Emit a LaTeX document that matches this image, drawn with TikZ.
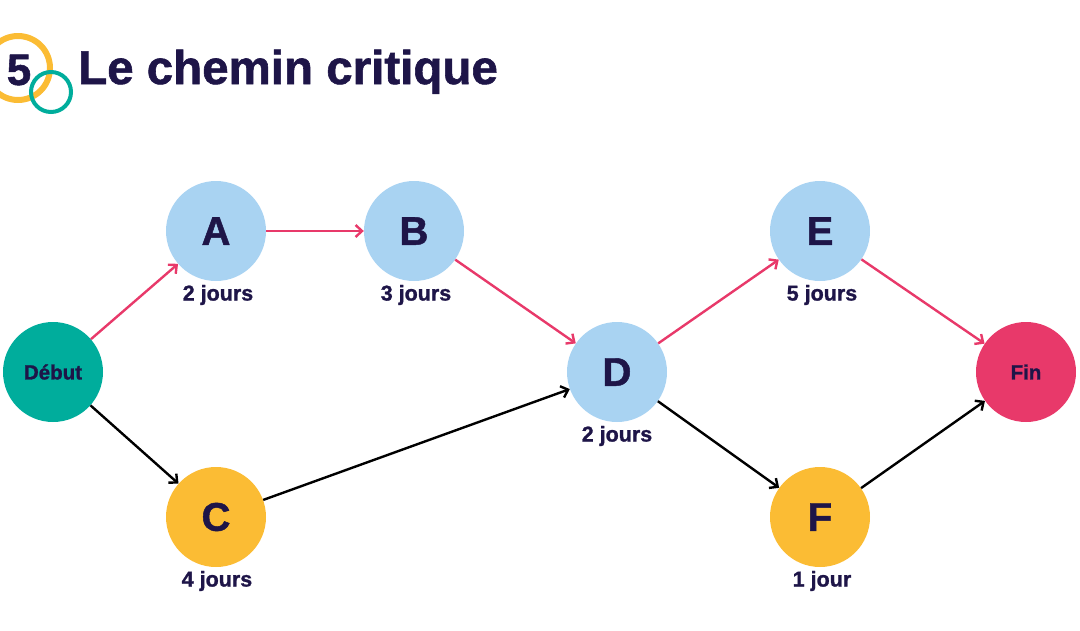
\documentclass[tikz,border=0pt]{standalone}
\usepackage{fontspec}
\setmainfont{Liberation Sans}[BoldFeatures={FakeBold=1.2}]
\usetikzlibrary{arrows.meta}
\definecolor{navy}{HTML}{1E1548}
\definecolor{lblue}{HTML}{A9D3F2}
\definecolor{yel}{HTML}{FBBC34}
\definecolor{teal2}{HTML}{00AD9C}
\definecolor{pink2}{HTML}{E8396A}
\tikzset{
  task/.style={circle, minimum size=100pt, inner sep=0pt, text=navy, font=\fontsize{40}{40}\selectfont\bfseries},
  bluetask/.style={task, fill=lblue},
  yeltask/.style={task, fill=yel},
  endpt/.style={circle, minimum size=100pt, inner sep=0pt, text=navy, font=\fontsize{20.5}{20.5}\selectfont\bfseries},
  dur/.style={text=navy, font=\fontsize{21.5}{21.5}\selectfont\bfseries, inner sep=0pt},
  crit/.style={draw=pink2, line width=2.4pt, -{Straight Barb[length=6.5pt,width=12pt,line width=2.4pt]}},
  norm/.style={draw=black, line width=2.4pt, -{Straight Barb[length=6.5pt,width=12pt,line width=2.4pt]}},
}
\begin{document}
\begin{tikzpicture}[x=1pt,y=-1pt]
\useasboundingbox (0,0) rectangle (1080,630);
\clip (0,0) rectangle (1080,630);
% logo
\draw[yel, line width=6pt] (18,68) circle (32);
\draw[teal2, line width=4pt] (51,92) circle (20);
\node[anchor=base, text=navy, font=\fontsize{44}{44}\selectfont\bfseries, inner sep=0pt] (five) at (19,85) {5};
\node[anchor=base west, text=navy, font=\fontsize{47.5}{47.5}\selectfont\bfseries, inner sep=0pt] (title) at (78,84) {Le chemin critique};
% nodes
\node[endpt, fill=teal2] (deb) at (53,372) {Début};
\node[bluetask] (A) at (216,231) {A};
\node[bluetask] (B) at (414,231) {B};
\node[yeltask] (C) at (216,517) {C};
\node[bluetask] (D) at (617,372) {D};
\node[bluetask] (E) at (820,231) {E};
\node[yeltask] (F) at (820,517) {F};
\node[endpt, fill=pink2] (fin) at (1026,372) {Fin};
% durations
\node[dur] (dA) at (218,295) {2 jours};
\node[dur] (dB) at (416,295) {3 jours};
\node[dur] (dC) at (217,581) {4 jours};
\node[dur] (dD) at (617,436) {2 jours};
\node[dur] (dE) at (822,295) {5 jours};
\node[dur] (dF) at (822,581) {1 jour};
% edges
\draw[crit] (deb) -- (A);
\draw[crit] (A) -- (B);
\draw[crit] (B) -- (D);
\draw[crit] (D) -- (E);
\draw[crit] (E) -- (fin);
\draw[norm] (deb) -- (C);
\draw[norm] (C) -- (D);
\draw[norm] (D) -- (F);
\draw[norm] (F) -- (fin);
\end{tikzpicture}
\end{document}
